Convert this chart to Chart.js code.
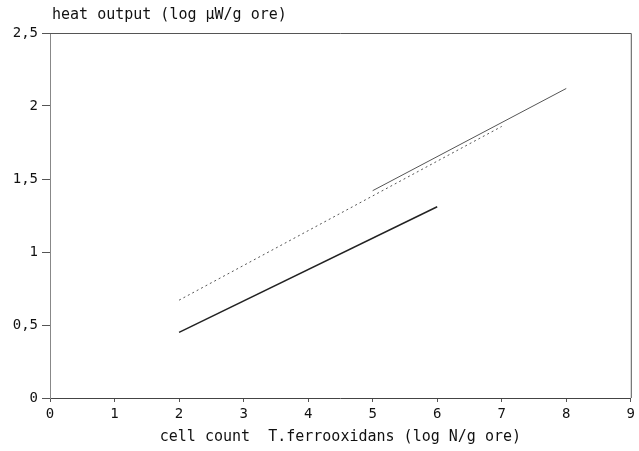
<!DOCTYPE html>
<html>
<head>
<meta charset="utf-8">
<script src="https://cdn.jsdelivr.net/npm/chart.js@4/dist/chart.umd.min.js"></script>
<style>
  html, body { margin: 0; padding: 0; background: #fff; }
  canvas { display: block; }
</style>
</head>
<body>
<canvas id="c" width="639" height="451"></canvas>
<script>
// Data
const xTickValues = [0, 1, 2, 3, 4, 5, 6, 7, 8, 9];
const yTickValues = [0, 0.5, 1, 1.5, 2, 2.5];
const lineA_x = [2, 6];
const lineA_y = [0.45, 1.31];
const lineB_x = [2, 7];
const lineB_y = [0.67, 1.86];
const lineC_x = [5, 8];
const lineC_y = [1.42, 2.12];
const yTitle = 'heat output (log \u00b5W/g ore)';
const xTitle = 'cell count  T.ferrooxidans (log N/g ore)';

function pts(xs, ys) { return xs.map((x, i) => ({ x: x, y: ys[i] })); }

const FONT = '"DejaVu Sans Mono", monospace';

const frame = {
  id: 'frame',
  afterDraw(chart) {
    const { ctx, chartArea: a } = chart;
    ctx.save();
    ctx.strokeStyle = '#555';
    ctx.lineWidth = 1;
    ctx.beginPath();
    ctx.moveTo(a.left, a.top + 0.5);
    ctx.lineTo(a.right + 0.5, a.top + 0.5);
    ctx.lineTo(a.right + 0.5, a.bottom);
    ctx.stroke();
    ctx.fillStyle = '#111';
    ctx.font = '15px ' + FONT;
    ctx.textAlign = 'left';
    ctx.textBaseline = 'middle';
    ctx.fillText(yTitle, 52, 15);
    ctx.restore();
  }
};

new Chart(document.getElementById('c'), {
  type: 'line',
  data: {
    datasets: [
      { data: pts(lineA_x, lineA_y), borderColor: '#222', borderWidth: 1.5, pointRadius: 0, fill: false },
      { data: pts(lineB_x, lineB_y), borderColor: '#555', borderWidth: 1, borderDash: [2, 3], pointRadius: 0, fill: false },
      { data: pts(lineC_x, lineC_y), borderColor: '#555', borderWidth: 1, pointRadius: 0, fill: false }
    ]
  },
  options: {
    responsive: false,
    animation: false,
    layout: { padding: { left: 0, right: 7, top: 33, bottom: 0 } },
    plugins: { legend: { display: false }, tooltip: { enabled: false } },
    scales: {
      x: {
        type: 'linear',
        min: 0, max: 9,
        afterBuildTicks(s) { s.ticks = xTickValues.map(v => ({ value: v })); },
        afterFit(s) { s.height = 53; },
        grid: { drawOnChartArea: false, drawTicks: true, tickLength: 4, color: '#555' },
        border: { display: true, color: '#444', width: 1 },
        ticks: { color: '#111', font: { family: FONT, size: 14 }, padding: 4, maxRotation: 0 },
        title: { display: true, text: xTitle, color: '#111', font: { family: FONT, size: 15 }, padding: { top: 0, bottom: 5 } }
      },
      y: {
        type: 'linear',
        min: 0, max: 2.5,
        afterBuildTicks(s) { s.ticks = yTickValues.map(v => ({ value: v })); },
        afterFit(s) { s.width = 50; },
        grid: { drawOnChartArea: false, drawTicks: true, tickLength: 8, color: '#555' },
        border: { display: true, color: '#888', width: 1 },
        ticks: { color: '#111', font: { family: FONT, size: 14 }, padding: 4,
          callback: v => String(v).replace('.', ',') }
      }
    }
  },
  plugins: [frame]
});
</script>
</body>
</html>
